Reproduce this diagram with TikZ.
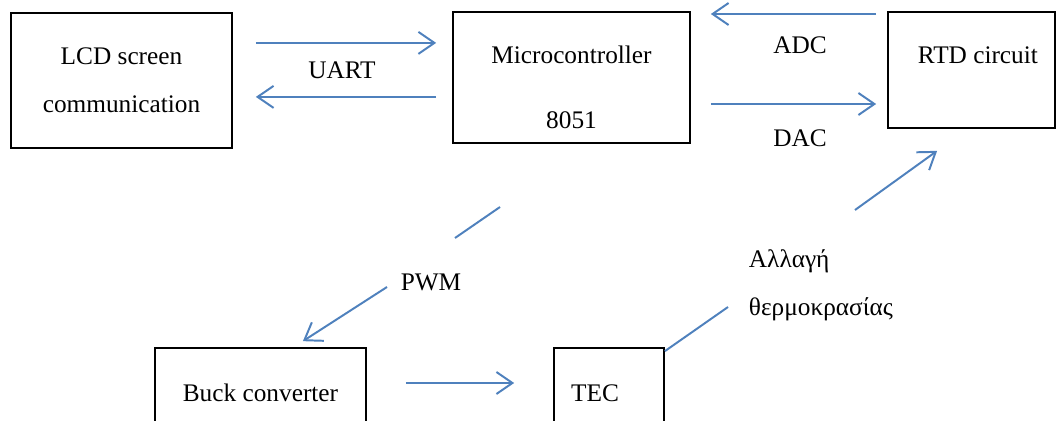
\documentclass[tikz,border=0pt]{standalone}
\usepackage{fontspec}
\setmainfont{Liberation Serif}
\usetikzlibrary{arrows.meta}
\definecolor{sigblue}{HTML}{4F81BD}
\newcommand{\blkfont}{\fontsize{18pt}{34pt}\selectfont}

\begin{document}
\begin{tikzpicture}[
    blk/.style={draw, line width=1.2pt, align=center, font=\blkfont},
    txt/.style={font=\blkfont},
    sigline/.style={draw=sigblue, line width=1.4pt},
    sig/.style={sigline, -{Straight Barb[length=4mm,width=5.5mm,line width=1.4pt]}}
  ]
      \useasboundingbox (0,0) rectangle (26.475,10.5);

      % Define the positions of the nodes
      \node[blk, minimum width=5.525cm, minimum height=3.375cm] (lcd) at (3.0375,8.4875) {LCD screen\\communication};
      \node[blk, minimum width=5.925cm, minimum height=3.275cm,
            label={[txt, align=center, yshift=-2.5mm]center:Microcontroller\\[12pt]8051}] (mcu) at (14.2875,8.5625) {};
      \node[blk, minimum width=4.175cm, minimum height=2.9cm,
            label={[txt, xshift=1.6mm, yshift=3.75mm]center:RTD circuit}] (rtd) at (24.2875,8.75) {};
      \node[blk, minimum width=5.275cm, minimum height=2.25cm] (buck) at (6.5125,0.675) {Buck converter};
      \node[blk, minimum width=2.75cm, minimum height=2.25cm,
            label={[txt, xshift=-3.5mm]center:TEC}] (tec) at (15.225,0.675) {};

      \node[txt] (uart) at (8.55,8.75) {UART};
      \node[txt] (adc) at (20.0,9.375) {ADC};
      \node[txt] (dac) at (20.0,7.05) {DAC};
      \node[txt] (pwm) at (10.775,3.45) {PWM};
      \node[txt, align=left, anchor=west] (temp) at (18.6,3.375) {Αλλαγή\\θερμοκρασίας};

      \coordinate (pwmA) at (12.5,5.325);
      \coordinate (pwmB) at (11.375,4.55);
      \coordinate (pwmC) at (9.675,3.325);
      \coordinate (tempA) at (18.2,2.825);
      \coordinate (tempB) at (21.375,5.25);

      % Draw the edges
      \draw[sig, shorten <=5.75mm, shorten >=4mm] ([yshift=9.4mm]lcd.east) -- ([yshift=9.4mm]lcd.east -| mcu.west);
      \draw[sig, shorten <=4mm, shorten >=5.75mm] ([yshift=-4.1mm]lcd.east -| mcu.west) -- ([yshift=-4.1mm]lcd.east);

      \draw[sig, shorten <=2.75mm, shorten >=5mm] ([yshift=14mm]rtd.west) -- ([yshift=14mm]rtd.west -| mcu.east);
      \draw[sig, shorten <=5mm, shorten >=2.75mm] ([yshift=-8.5mm]rtd.west -| mcu.east) -- ([yshift=-8.5mm]rtd.west);

      \draw[sigline] (pwmA) -- (pwmB);
      \draw[sig] (pwmC) -- ([xshift=10.6mm,yshift=1.5mm]buck.north);

      \draw[sig, shorten <=9.75mm, shorten >=9.75mm] ([yshift=2.5mm]buck.east) -- ([yshift=2.5mm]buck.east -| tec.west);

      \draw[sigline] ([yshift=-1mm]tec.north east) -- (tempA);
      \draw[sig] (tempB) -- ([xshift=-8.6mm,yshift=-5.5mm]rtd.south);
  \end{tikzpicture}
\end{document}
